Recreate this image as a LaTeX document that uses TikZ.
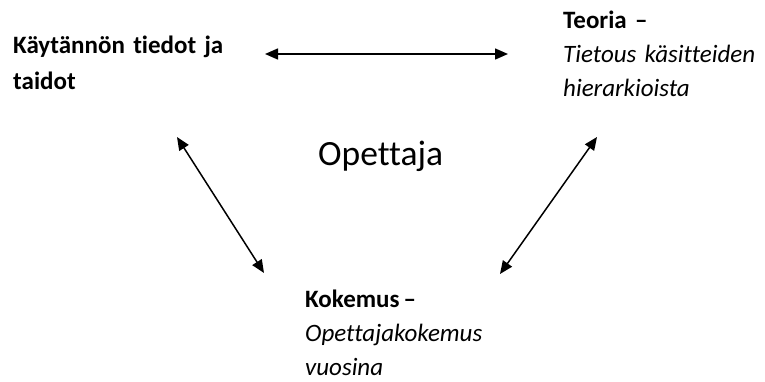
\documentclass[tikz,border=0pt]{standalone}
\usepackage{fontspec}
\setmainfont[Ligatures={NoCommon,TeX}]{Carlito}
\usetikzlibrary{arrows.meta}
\tikzset{
  block/.style={anchor=base west, inner sep=0pt, text width=260pt, align=left,
                font=\fontsize{25}{34}\selectfont},
  centre/.style={anchor=base west, inner sep=0pt, font=\fontsize{35.5}{40}\selectfont},
  link/.style={line width=1.5pt, {Triangle[length=13pt,width=11pt]}-{Triangle[length=13pt,width=11pt]}}
}
\begin{document}
\begin{tikzpicture}[x=1pt,y=-1pt]
  \useasboundingbox (0,0) rectangle (765,381);

  % three corners of the triangle
  \node[block] (practice) at (13,53)
    {\textbf{Käytännön tiedot ja}\\[2pt]\textbf{taidot}};
  \node[block] (theory) at (563,28)
    {\textbf{Teoria –}\\\textit{Tietous käsitteiden}\\\textit{hierarkioista}};
  \node[block] (experience) at (305,307)
    {\textbf{Kokemus\,–}\\\textit{Opettajakokemus}\\\textit{vuosina}};

  % the teacher in the middle
  \node[centre] (teacher) at (318,165) {Opettaja};

  % arrow end points
  \coordinate (pt-r) at (265,54);
  \coordinate (th-l) at (508,54);
  \coordinate (pt-d) at (177,137);
  \coordinate (ex-l) at (264,273);
  \coordinate (th-d) at (597,137);
  \coordinate (ex-r) at (500,274);

  \draw[link] (pt-r) -- (th-l);
  \draw[link] (pt-d) -- (ex-l);
  \draw[link] (th-d) -- (ex-r);
\end{tikzpicture}
\end{document}
